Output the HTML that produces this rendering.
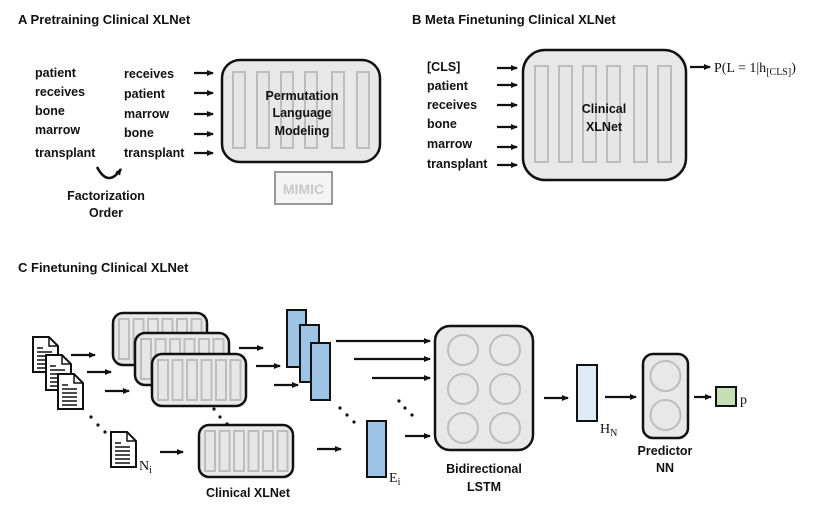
<!DOCTYPE html>
<html><head><meta charset="utf-8"><style>
html,body{margin:0;padding:0;background:#fff}
svg{display:block}
.t{font-family:"Liberation Sans",sans-serif;font-weight:bold;font-size:12.5px;fill:#111}
.s{font-family:"Liberation Serif",serif;font-size:14px;fill:#111}
.bar{fill:#e6e6e6;stroke:#bdbdbd;stroke-width:2}
.box{fill:#e8e8e8;stroke:#111;stroke-width:2.5}
.ar{stroke:#111;stroke-width:2.2;fill:none;marker-end:url(#ah)}
.doc{fill:#fff;stroke:#111;stroke-width:2}
.circ{fill:none;stroke:#bdbdbd;stroke-width:2}
</style></head><body>
<svg width="830" height="513" viewBox="0 0 830 513" xmlns="http://www.w3.org/2000/svg">
<defs>
<marker id="ah" markerWidth="8" markerHeight="8" refX="6" refY="3" orient="auto" markerUnits="userSpaceOnUse"><path d="M0,0 L7,3 L0,6 Z" fill="#111"/></marker>
<g id="doc">
<path class="doc" d="M0,0 H16 L25,9 V35 H0 Z"/>
<path d="M16,0 V9 H25" fill="none" stroke="#111" stroke-width="1.5"/>
<path d="M4,11 H10 M4,15 H19 M4,19 H19 M4,23 H19 M4,27 H19 M4,31 H19" stroke="#111" stroke-width="1.5"/>
</g>
<g id="cbox">
<rect class="box" x="0" y="0" width="94" height="52" rx="10"/>
<rect class="bar" x="6" y="6" width="10" height="40"/>
<rect class="bar" x="20.5" y="6" width="10" height="40"/>
<rect class="bar" x="35" y="6" width="10" height="40"/>
<rect class="bar" x="49.5" y="6" width="10" height="40"/>
<rect class="bar" x="64" y="6" width="10" height="40"/>
<rect class="bar" x="78.5" y="6" width="10" height="40"/>
</g>
</defs>

<!-- Panel A -->
<text class="t" x="18" y="24" style="font-size:13px">A  Pretraining Clinical XLNet</text>
<text class="t" x="35" y="77">patient</text>
<text class="t" x="35" y="96">receives</text>
<text class="t" x="35" y="115">bone</text>
<text class="t" x="35" y="134">marrow</text>
<text class="t" x="35" y="157">transplant</text>
<text class="t" x="124" y="78">receives</text>
<text class="t" x="124" y="98">patient</text>
<text class="t" x="124" y="118">marrow</text>
<text class="t" x="124" y="137">bone</text>
<text class="t" x="124" y="157">transplant</text>
<line class="ar" x1="194" y1="73" x2="213" y2="73"/>
<line class="ar" x1="194" y1="93" x2="213" y2="93"/>
<line class="ar" x1="194" y1="114" x2="213" y2="114"/>
<line class="ar" x1="194" y1="134" x2="213" y2="134"/>
<line class="ar" x1="194" y1="153" x2="213" y2="153"/>
<path d="M97,167 Q108,188 121,169" stroke="#111" stroke-width="2.5" fill="none" marker-end="url(#ah)"/>
<text class="t" x="106" y="200" text-anchor="middle">Factorization</text>
<text class="t" x="106" y="217" text-anchor="middle">Order</text>
<rect class="box" x="222" y="60" width="158" height="102" rx="18"/>
<rect class="bar" x="233" y="72" width="12" height="76"/>
<rect class="bar" x="257" y="72" width="12" height="76"/>
<rect class="bar" x="281" y="72" width="12" height="76"/>
<rect class="bar" x="305" y="72" width="12" height="76"/>
<rect class="bar" x="332" y="72" width="12" height="76"/>
<rect class="bar" x="357" y="72" width="12" height="76"/>
<text class="t" x="302" y="100" text-anchor="middle">Permutation</text>
<text class="t" x="302" y="117" text-anchor="middle">Language</text>
<text class="t" x="302" y="135" text-anchor="middle">Modeling</text>
<rect x="275" y="172" width="57" height="32" fill="#f4f4f4" stroke="#999" stroke-width="2"/>
<text x="303.5" y="194" text-anchor="middle" style="font-family:'Liberation Sans',sans-serif;font-weight:bold;font-size:14px;fill:#c8c8c8">MIMIC</text>

<!-- Panel B -->
<text class="t" x="412" y="24" style="font-size:13px">B  Meta Finetuning Clinical XLNet</text>
<text class="t" x="427" y="71">[CLS]</text>
<text class="t" x="427" y="90">patient</text>
<text class="t" x="427" y="109">receives</text>
<text class="t" x="427" y="128">bone</text>
<text class="t" x="427" y="148">marrow</text>
<text class="t" x="427" y="168">transplant</text>
<line class="ar" x1="497" y1="68" x2="517" y2="68"/>
<line class="ar" x1="497" y1="85" x2="517" y2="85"/>
<line class="ar" x1="497" y1="105" x2="517" y2="105"/>
<line class="ar" x1="497" y1="127" x2="517" y2="127"/>
<line class="ar" x1="497" y1="147" x2="517" y2="147"/>
<line class="ar" x1="497" y1="165" x2="517" y2="165"/>
<rect class="box" x="523" y="50" width="163" height="130" rx="22"/>
<rect class="bar" x="535" y="66" width="13" height="96"/>
<rect class="bar" x="559" y="66" width="13" height="96"/>
<rect class="bar" x="583" y="66" width="13" height="96"/>
<rect class="bar" x="607" y="66" width="13" height="96"/>
<rect class="bar" x="634" y="66" width="13" height="96"/>
<rect class="bar" x="658" y="66" width="13" height="96"/>
<text class="t" x="604" y="113" text-anchor="middle">Clinical</text>
<text class="t" x="604" y="131" text-anchor="middle">XLNet</text>
<line class="ar" x1="690" y1="67" x2="710" y2="67"/>
<text class="s" x="714" y="72">P(L = 1|h<tspan font-size="10" dy="3">[CLS]</tspan><tspan dy="-3">)</tspan></text>

<!-- Panel C -->
<text class="t" x="18" y="272" style="font-size:13px">C  Finetuning Clinical XLNet</text>
<use href="#doc" x="33" y="337"/>
<use href="#doc" x="46" y="355"/>
<use href="#doc" x="58" y="374"/>
<line class="ar" x1="71" y1="355" x2="95" y2="355"/>
<line class="ar" x1="87" y1="372" x2="111" y2="372"/>
<line class="ar" x1="105" y1="391" x2="129" y2="391"/>
<use href="#cbox" x="113" y="313"/>
<use href="#cbox" x="135" y="333"/>
<use href="#cbox" x="152" y="354"/>
<line class="ar" x1="239" y1="348" x2="263" y2="348"/>
<line class="ar" x1="256" y1="366" x2="280" y2="366"/>
<line class="ar" x1="274" y1="385" x2="298" y2="385"/>
<rect x="287" y="310" width="19" height="57" fill="#9dc3e6" stroke="#111" stroke-width="2"/>
<rect x="300" y="325" width="19" height="57" fill="#9dc3e6" stroke="#111" stroke-width="2"/>
<rect x="311" y="343" width="19" height="57" fill="#9dc3e6" stroke="#111" stroke-width="2"/>
<line class="ar" x1="336" y1="341" x2="430" y2="341"/>
<line class="ar" x1="354" y1="359" x2="430" y2="359"/>
<line class="ar" x1="372" y1="378" x2="430" y2="378"/>
<line class="ar" x1="405" y1="436" x2="430" y2="436"/>
<!-- dots -->
<g fill="#111">
<circle cx="91" cy="417" r="1.6"/><circle cx="98" cy="425" r="1.6"/><circle cx="105" cy="432" r="1.6"/>
<circle cx="214" cy="409" r="1.6"/><circle cx="220" cy="417" r="1.6"/><circle cx="227" cy="424" r="1.6"/>
<circle cx="340" cy="408" r="1.6"/><circle cx="347" cy="415" r="1.6"/><circle cx="354" cy="422" r="1.6"/>
<circle cx="399" cy="401" r="1.6"/><circle cx="405" cy="408" r="1.6"/><circle cx="412" cy="415" r="1.6"/>
</g>
<use href="#doc" x="111" y="432"/>
<text class="s" x="139" y="470">N<tspan font-size="10" dy="3">i</tspan></text>
<line class="ar" x1="160" y1="452" x2="183" y2="452"/>
<use href="#cbox" x="199" y="425"/>
<text class="t" x="248" y="497" text-anchor="middle">Clinical XLNet</text>
<line class="ar" x1="317" y1="449" x2="341" y2="449"/>
<rect x="367" y="421" width="19" height="56" fill="#9dc3e6" stroke="#111" stroke-width="2"/>
<text class="s" x="389" y="482">E<tspan font-size="10" dy="3">i</tspan></text>

<rect class="box" x="435" y="326" width="98" height="124" rx="15"/>
<circle class="circ" cx="463" cy="350" r="15"/><circle class="circ" cx="505" cy="350" r="15"/>
<circle class="circ" cx="463" cy="389" r="15"/><circle class="circ" cx="505" cy="389" r="15"/>
<circle class="circ" cx="463" cy="428" r="15"/><circle class="circ" cx="505" cy="428" r="15"/>
<text class="t" x="484" y="473" text-anchor="middle">Bidirectional</text>
<text class="t" x="484" y="491" text-anchor="middle">LSTM</text>
<line class="ar" x1="544" y1="398" x2="568" y2="398"/>
<rect x="577" y="365" width="20" height="56" fill="#deebf7" stroke="#111" stroke-width="2"/>
<text class="s" x="600" y="433">H<tspan font-size="10" dy="3">N</tspan></text>
<line class="ar" x1="605" y1="397" x2="636" y2="397"/>
<rect class="box" x="643" y="354" width="45" height="84" rx="10"/>
<circle class="circ" cx="665.5" cy="376" r="15"/>
<circle class="circ" cx="665.5" cy="415" r="15"/>
<text class="t" x="665" y="455" text-anchor="middle">Predictor</text>
<text class="t" x="665" y="472" text-anchor="middle">NN</text>
<line class="ar" x1="694" y1="397" x2="711" y2="397"/>
<rect x="716" y="387" width="20" height="19" fill="#c5e0b4" stroke="#111" stroke-width="2"/>
<text class="s" x="740" y="404">p</text>
</svg>
</body></html>
